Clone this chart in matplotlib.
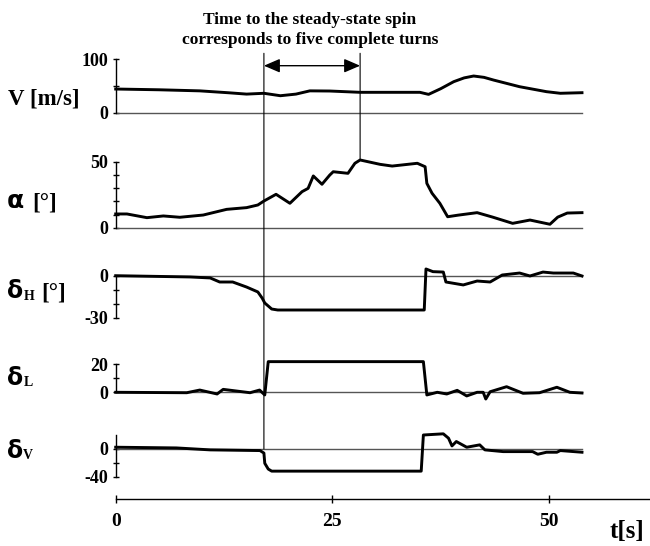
import matplotlib
matplotlib.use('Agg')
import matplotlib.pyplot as plt
from matplotlib.patches import ConnectionPatch

plt.rcParams['font.family'] = ['Liberation Serif', 'DejaVu Serif']
plt.rcParams['font.weight'] = 'bold'

# --- data (time in s) ---
t_v = [0, 5, 9.7, 13.0, 15.1, 17.1, 19.0, 20.8, 22.4, 24.7, 28.2, 35.1, 36.1, 37.5, 39.0,
       40.2, 41.3, 42.5, 43.6, 46.6, 49.7, 51.3, 53.8]
v = [44.4, 43, 41, 37.5, 35, 36.5, 32, 35, 41, 40.7, 38.3, 38.3, 34.5, 45, 58,
     65, 68.5, 66, 61, 48.7, 39.5, 36.5, 37.6]

t_alpha = [0, 1.3, 3.6, 5.5, 7.4, 10.1, 12.8, 15.1, 16.4, 17.1, 18.5, 20.1, 21.5, 22.2, 22.8,
           23.8, 24.7, 25.1, 26.8, 27.6, 28.2, 30.5, 31.9, 34.8, 35.7, 35.9, 36.5, 37.4, 38.3,
           39.5, 41.7, 43.5, 45.8, 47.8, 50.1, 51.0, 52.1, 53.8]
alpha = [10.4, 10.4, 7.6, 8.9, 7.9, 9.6, 13.9, 15.2, 17.2, 20.2, 25.3, 18.5, 27.3, 29.8, 39.2,
         32.9, 39.9, 42.4, 41.2, 48.8, 51.3, 48.0, 46.7, 48.8, 46.2, 33.6, 26.1, 18.5, 8.3,
         9.5, 11.4, 8.0, 3.3, 5.8, 2.6, 8.0, 11.1, 11.4]

t_dh = [0, 8.6, 10.9, 12.0, 13.5, 15.1, 16.4, 16.9, 17.2, 18.0, 18.7, 35.6, 35.8, 36.6, 37.8,
        38.1, 40.1, 41.7, 43.2, 44.6, 46.6, 47.8, 49.3, 50.5, 52.8, 53.8]
dh = [0, -0.9, -1.6, -4.5, -4.5, -8.1, -11.6, -16, -19.5, -23.8, -24.5, -24.5, 4.8, 2.9, 2.6,
      -4.5, -6.6, -3.8, -4.5, 0.5, 1.9, -0.2, 2.6, 1.9, 1.9, -0.2]

t_dl = [0, 8.2, 9.7, 11.7, 12.4, 15.5, 16.6, 17.2, 17.6, 35.5, 35.9, 37.1, 38.2, 39.4, 40.5,
        41.7, 42.4, 42.7, 43.2, 45.1, 47.0, 48.9, 50.9, 52.4, 53.8]
dl = [0, -0.3, 1.6, -1.2, 2.1, -0.3, 1.6, -1.9, 21.9, 21.9, -1.9, 0, -1.2, 1.4, -2.6,
      0, 0, -4.8, 0.4, 4.0, -0.7, -0.3, 3.6, 0, -0.5]

t_dv = [0, 7.0, 10.9, 16.65, 17.1, 17.2, 17.6, 18.0, 35.25, 35.5, 37.8, 38.4, 38.8, 39.3,
        40.5, 42.0, 42.6, 44.7, 48.1, 48.7, 49.7, 50.9, 51.3, 53.8]
dv = [2.4, 1.4, -1.4, -2.4, -6, -20.7, -29, -32, -32, 20, 21.7, 15.4, 4.3, 10.6,
      2.4, 5.8, -1.4, -3.9, -3.9, -7.7, -4.8, -4.8, -2.4, -4.8]

t_end = 53.8
t_mark1, t_mark2 = 17.1, 28.2
time_ticks = [0, 25, 50]

# --- layout in pixels ---
W, H = 650, 546
T0_PX, PX_PER_S = 115.7, 8.667
XMAX = (W - T0_PX) / PX_PER_S

fig = plt.figure(figsize=(W / 100, H / 100), dpi=100)


def px_axes(y_top, y_bot):
    return fig.add_axes([T0_PX / W, 1 - y_bot / H, (W - T0_PX) / W, (y_bot - y_top) / H])


def setup_panel(ax, ylim, ticks, labels):
    ax.set_xlim(0, XMAX)
    ax.set_ylim(*ylim)
    for s in ('top', 'right', 'bottom'):
        ax.spines[s].set_visible(False)
    ax.spines['left'].set_linewidth(1.0)
    ax.set_xticks([])
    ax.set_yticks(ticks, labels)
    ax.tick_params(axis='y', direction='inout', length=5, width=1.0, pad=3, labelsize=13)
    ax.patch.set_visible(False)
    ax.plot([0, t_end], [0, 0], color='#555555', lw=1.0, clip_on=False)


panels = [
    ((59, 113), (0, 100), [0, 50, 100], ['0', '', '100'], t_v, v),
    ((161.7, 227.7), (0, 50), [0, 10, 20, 30, 40, 50], ['0', '', '', '', '', '50'], t_alpha, alpha),
    ((275.7, 317.7), (-30, 0), [-30, -20, -10, 0], ['-30', '', '', '0'], t_dh, dh),
    ((364.3, 392.3), (0, 20), [0, 10, 20], ['0', '', '20'], t_dl, dl),
    ((435, 476.7), (-40, 20), [-40, -20, 0], ['-40', '', '0'], t_dv, dv),
]

axes = []
for (ytop, ybot), ylim, ticks, labels, tt, yy in panels:
    ax = px_axes(ytop, ybot)
    setup_panel(ax, ylim, ticks, labels)
    ax.plot(tt, yy, color='black', lw=2.1, clip_on=False, solid_joinstyle='round')
    axes.append(ax)

ax_v, ax_a, ax_dh, ax_dl, ax_dv = axes

# time axis
ax_t = px_axes(489.3, 509.3)
ax_t.set_xlim(0, XMAX)
ax_t.set_ylim(-1, 1)
for s in ('top', 'right', 'left'):
    ax_t.spines[s].set_visible(False)
ax_t.spines['bottom'].set_position(('data', 0))
ax_t.spines['bottom'].set_linewidth(1.0)
ax_t.set_yticks([])
ax_t.set_xticks(time_ticks, [str(x) for x in time_ticks])
ax_t.tick_params(axis='x', direction='inout', length=6, width=1.0, pad=7, labelsize=14)
ax_t.patch.set_visible(False)
fig.text(627 / W, 1 - 538 / H, 't[s]', fontsize=18, ha='center', va='baseline')

# marker lines and arrow
y_top_v = 100 + (59 - 53.3) / 0.54
con1 = ConnectionPatch(xyA=(t_mark1, y_top_v), coordsA=ax_v.transData,
                       xyB=(t_mark1, 0), coordsB=ax_dv.transData, color='black', lw=0.8)
fig.add_artist(con1)
con2 = ConnectionPatch(xyA=(t_mark2, y_top_v), coordsA=ax_v.transData,
                       xyB=(t_mark2, max(alpha)), coordsB=ax_a.transData, color='black', lw=0.8)
fig.add_artist(con2)
ax_v.annotate('', xy=(t_mark1, 87.6), xytext=(t_mark2, 87.6), annotation_clip=False,
              arrowprops=dict(arrowstyle='<|-|>,head_length=0.65,head_width=0.28',
                              mutation_scale=15, lw=1.0, color='black', shrinkA=0, shrinkB=0))

fig.text(310 / W, 1 - 24.5 / H, 'Time to the steady-state spin', fontsize=12.5,
         ha='center', va='baseline')
fig.text(310 / W, 1 - 44.5 / H, 'corresponds to five complete turns', fontsize=12.5,
         ha='center', va='baseline')

# panel labels
greek = ['DejaVu Sans']
fig.text(8 / W, 1 - 105 / H, 'V [m/s]', fontsize=16.5, va='baseline')
fig.text(7 / W, 1 - 208 / H, 'α', fontsize=18, family=greek, va='baseline')
fig.text(32 / W, 1 - 208 / H, '[°]', fontsize=16.5, va='baseline')
fig.text(7 / W, 1 - 298 / H, 'δ', fontsize=17, family=greek, va='baseline')
fig.text(24 / W, 1 - 299.5 / H, 'H', fontsize=10, va='baseline')
fig.text(41 / W, 1 - 298 / H, '[°]', fontsize=16.5, va='baseline')
fig.text(7 / W, 1 - 385 / H, 'δ', fontsize=17, family=greek, va='baseline')
fig.text(24 / W, 1 - 386 / H, 'L', fontsize=10, va='baseline')
fig.text(7 / W, 1 - 458 / H, 'δ', fontsize=17, family=greek, va='baseline')
fig.text(23 / W, 1 - 459 / H, 'V', fontsize=10, va='baseline')

fig.savefig('out.png', dpi=100)
